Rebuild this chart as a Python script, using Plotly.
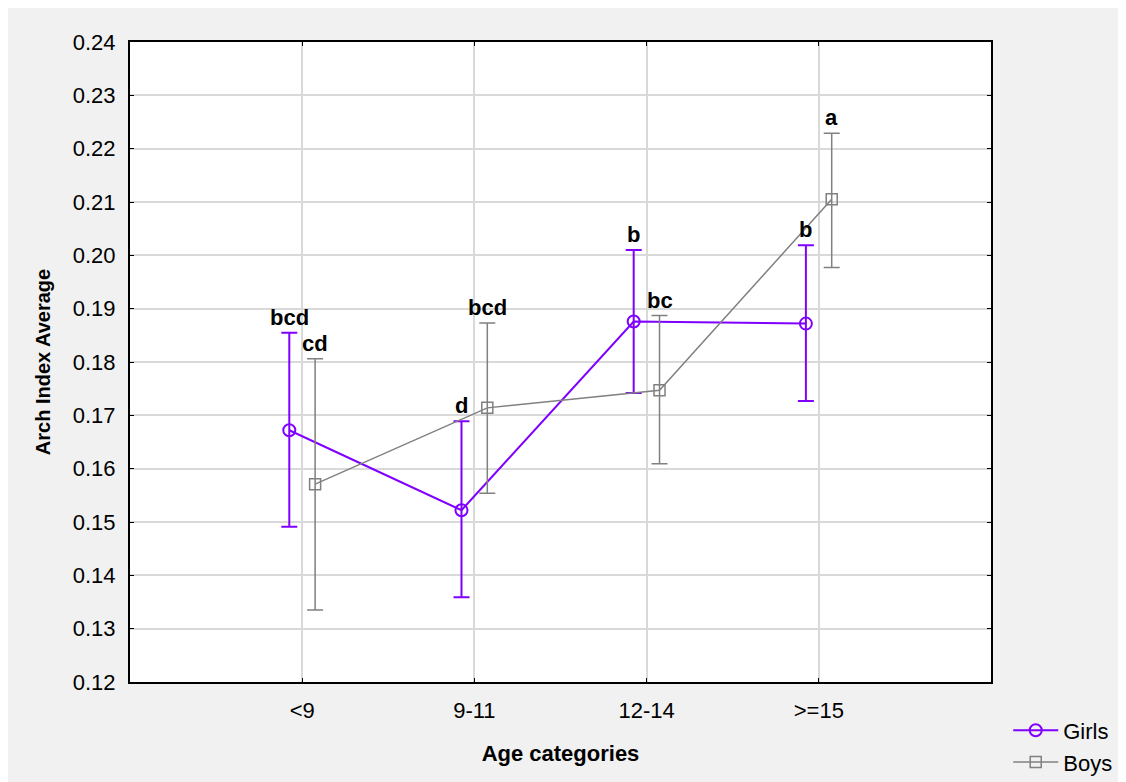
import plotly.graph_objects as go

categories = ["<9", "9-11", "12-14", ">=15"]
girls_mean = [0.1672, 0.1522, 0.1876, 0.1872]
girls_upper = [0.1855, 0.1689, 0.2010, 0.2019]
girls_lower = [0.1491, 0.1359, 0.1742, 0.1727]
boys_mean = [0.1571, 0.1714, 0.1747, 0.2105]
boys_upper = [0.1806, 0.1873, 0.1887, 0.2229]
boys_lower = [0.1335, 0.1554, 0.1609, 0.1977]
girls_letters = ["bcd", "d", "b", "b"]
boys_letters = ["cd", "bcd", "bc", "a"]

PURPLE = "#8000ff"
GRAY = "#808080"
FONT = "Liberation Sans, Arial, sans-serif"
off = 0.075

idx = list(range(len(categories)))
gx = [i - off for i in idx]
bx = [i + off for i in idx]

fig = go.Figure()
fig.add_trace(go.Scatter(
    x=gx, y=girls_mean, name="Girls", mode="lines+markers",
    line=dict(color=PURPLE, width=2),
    marker=dict(symbol="circle-open", size=12, color=PURPLE, line=dict(width=2)),
    error_y=dict(type="data", symmetric=False,
                 array=[u - m for u, m in zip(girls_upper, girls_mean)],
                 arrayminus=[m - l for m, l in zip(girls_mean, girls_lower)],
                 color=PURPLE, thickness=2, width=8),
))
fig.add_trace(go.Scatter(
    x=bx, y=boys_mean, name="Boys", mode="lines+markers",
    line=dict(color=GRAY, width=1.5),
    marker=dict(symbol="square-open", size=11, color=GRAY, line=dict(width=1.5)),
    error_y=dict(type="data", symmetric=False,
                 array=[u - m for u, m in zip(boys_upper, boys_mean)],
                 arrayminus=[m - l for m, l in zip(boys_mean, boys_lower)],
                 color=GRAY, thickness=1.5, width=8),
))

for x, y, t in list(zip(gx, girls_upper, girls_letters)) + list(zip(bx, boys_upper, boys_letters)):
    fig.add_annotation(x=x, y=y, text="<b>%s</b>" % t, showarrow=False,
                       yanchor="bottom", xanchor="center", yshift=1,
                       font=dict(family=FONT, size=22, color="black"))

fig.update_layout(
    width=1126, height=782,
    margin=dict(l=122, r=143, t=34, b=108, autoexpand=False),
    paper_bgcolor="#f1f1f1", plot_bgcolor="white",
    font=dict(family=FONT, size=22, color="black"),
    showlegend=True,
    legend=dict(x=1.02, xanchor="left", y=-0.043, yanchor="top",
                bgcolor="rgba(0,0,0,0)", font=dict(size=22), tracegroupgap=0,
                itemwidth=45),
    xaxis=dict(range=[-1, 4], tickvals=idx, ticktext=categories,
               showgrid=True, gridcolor="#d9d9d9", gridwidth=1.5,
               showline=True, linecolor="black", linewidth=2, mirror="ticks",
               ticks="inside", ticklen=4, tickcolor="black", zeroline=False,
               ticklabelstandoff=8, automargin=False,
               title=dict(text="<b>Age categories</b>", standoff=23,
                          font=dict(size=22))),
    yaxis=dict(range=[0.12, 0.24], dtick=0.01, tickformat=".2f",
               showgrid=True, gridcolor="#d9d9d9", gridwidth=1.5,
               showline=True, linecolor="black", linewidth=2, mirror="ticks",
               ticks="inside", ticklen=4, tickcolor="black", zeroline=False,
               ticklabelstandoff=8, automargin=False,
               title=dict(text="<b>Arch Index Average</b>", standoff=17,
                          font=dict(size=20))),
)

fig.write_html("out.html")
